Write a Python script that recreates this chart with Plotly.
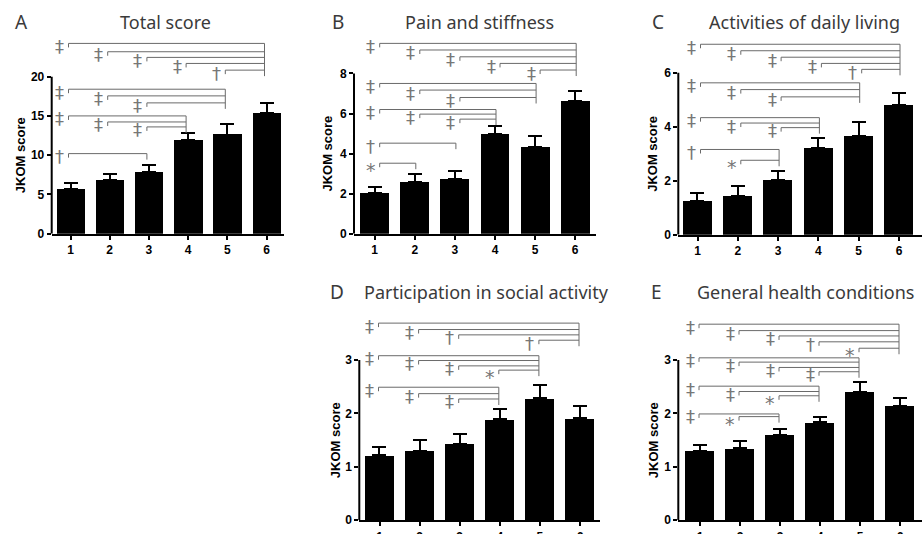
import plotly.graph_objects as go

# ---------------- data ----------------
groups = [1, 2, 3, 4, 5, 6]

total_mean = [5.72, 6.78, 7.80, 11.95, 12.63, 15.38]
total_se = [0.72, 0.85, 0.89, 0.85, 1.35, 1.22]

pain_mean = [2.03, 2.58, 2.75, 4.97, 4.33, 6.62]
pain_se = [0.30, 0.42, 0.38, 0.40, 0.57, 0.50]

adl_mean = [1.24, 1.44, 2.02, 3.23, 3.66, 4.80]
adl_se = [0.29, 0.38, 0.35, 0.37, 0.51, 0.47]

social_mean = [1.22, 1.30, 1.43, 1.89, 2.28, 1.91]
social_se = [0.16, 0.21, 0.18, 0.19, 0.26, 0.23]

health_mean = [1.30, 1.35, 1.60, 1.83, 2.41, 2.14]
health_se = [0.11, 0.13, 0.11, 0.10, 0.17, 0.15]

# significance comparisons: (group a, group b, mark)
total_sig = [(1, 6, "‡"), (2, 6, "‡"), (3, 6, "‡"), (4, 6, "‡"), (5, 6, "†"),
             (1, 5, "‡"), (2, 5, "‡"), (3, 5, "‡"),
             (1, 4, "‡"), (2, 4, "‡"), (3, 4, "‡"),
             (1, 3, "†")]
pain_sig = [(1, 6, "‡"), (2, 6, "‡"), (3, 6, "‡"), (4, 6, "‡"), (5, 6, "‡"),
            (1, 5, "‡"), (2, 5, "‡"), (3, 5, "‡"),
            (1, 4, "‡"), (2, 4, "‡"), (3, 4, "‡"),
            (1, 3, "†"), (1, 2, "*")]
adl_sig = [(1, 6, "‡"), (2, 6, "‡"), (3, 6, "‡"), (4, 6, "‡"), (5, 6, "†"),
           (1, 5, "‡"), (2, 5, "‡"), (3, 5, "‡"),
           (1, 4, "‡"), (2, 4, "‡"), (3, 4, "‡"),
           (1, 3, "†"), (2, 3, "*")]
social_sig = [(1, 6, "‡"), (2, 6, "‡"), (3, 6, "†"), (5, 6, "†"),
              (1, 5, "‡"), (2, 5, "‡"), (3, 5, "‡"), (4, 5, "*"),
              (1, 4, "‡"), (2, 4, "‡"), (3, 4, "‡")]
health_sig = [(1, 6, "‡"), (2, 6, "‡"), (3, 6, "‡"), (4, 6, "†"), (5, 6, "*"),
              (1, 5, "‡"), (2, 5, "‡"), (3, 5, "‡"), (4, 5, "‡"),
              (1, 4, "‡"), (2, 4, "‡"), (3, 4, "*"),
              (1, 3, "‡"), (2, 3, "*")]

# ---------------- layout (bracket heights, in axis units) ----------------
total_levels = [24.23, 23.17, 22.45, 21.68, 20.83, 18.4, 17.55, 16.66, 15.0, 14.23, 13.6, 10.2]
pain_levels = [9.5, 9.17, 8.83, 8.5, 8.17, 7.5, 7.17, 6.8, 6.2, 5.97, 5.72, 4.52, 3.52]
adl_levels = [7.06, 6.82, 6.58, 6.35, 6.13, 5.63, 5.38, 5.11, 4.34, 4.14, 3.97, 3.16, 2.76]
social_levels = [3.69, 3.57, 3.47, 3.37, 3.08, 2.99, 2.89, 2.81, 2.49, 2.37, 2.27]
health_levels = [3.67, 3.55, 3.45, 3.34, 3.22, 3.04, 2.96, 2.86, 2.78, 2.51, 2.41, 2.33, 1.99, 1.94]

W, H = 924, 544
VS = 534.0 / H  # the page height is fitted into the 534 px picture


def py(y):
    """target picture row -> page row"""
    return y / VS


panels = [
    dict(letter="A", title="Total score", mean=total_mean, se=total_se, sig=total_sig, lv=total_levels,
         axis_px=51.7, c1=70.5, sp=39.2, end_px=284, zero_px=233.3, ppu=7.84, top_px=30,
         ytop=20, ticks=[0, 5, 10, 15, 20], off0=-2, off1=-2,
         letter_xy=(13, 22), title_x=118, ylab_x=20),
    dict(letter="B", title="Pain and stiffness", mean=pain_mean, se=pain_se, sig=pain_sig, lv=pain_levels,
         axis_px=354, c1=374.7, sp=40.1, end_px=596, zero_px=233.3, ppu=20.0, top_px=30,
         ytop=8, ticks=[0, 2, 4, 6, 8], off0=5, off1=1,
         letter_xy=(330, 22), title_x=403, ylab_x=328),
    dict(letter="C", title="Activities of daily living", mean=adl_mean, se=adl_se, sig=adl_sig, lv=adl_levels,
         axis_px=678.3, c1=697.5, sp=40.3, end_px=922, zero_px=234.3, ppu=26.93, top_px=30,
         ytop=6, ticks=[0, 2, 4, 6], off0=3, off1=1,
         letter_xy=(650, 22), title_x=707, ylab_x=653),
    dict(letter="D", title="Participation in social activity", mean=social_mean, se=social_se, sig=social_sig,
         lv=social_levels,
         axis_px=359.3, c1=379.5, sp=40.1, end_px=600, zero_px=519.3, ppu=53.33, top_px=305,
         ytop=3, ticks=[0, 1, 2, 3], off0=-1, off1=-1,
         letter_xy=(328, 291), title_x=362, ylab_x=335),
    dict(letter="E", title="General health conditions", mean=health_mean, se=health_se, sig=health_sig,
         lv=health_levels,
         axis_px=678.3, c1=700, sp=40.0, end_px=922, zero_px=519.3, ppu=53.33, top_px=305,
         ytop=3, ticks=[0, 1, 2, 3], off0=-1, off1=-1,
         letter_xy=(649, 291), title_x=695, ylab_x=653),
]

fig = go.Figure()
shapes = []
annotations = []
GREY = "#6a6a6a"
SYM = "#777777"
TXT = "#3a3a3a"

for k, p in enumerate(panels):
    n = "" if k == 0 else str(k + 1)
    xa, ya = "x" + n, "y" + n
    zero_pg, top_pg, ppu_pg = py(p["zero_px"]), py(p["top_px"]), p["ppu"] / VS
    xr = [1 - (p["c1"] - p["axis_px"]) / p["sp"], 1 + (p["end_px"] - p["c1"]) / p["sp"]]
    yr = [0, (zero_pg - top_pg) / ppu_pg]
    fig.add_trace(go.Bar(
        x=groups, y=p["mean"], xaxis=xa, yaxis=ya, width=0.72,
        marker=dict(color="black", line=dict(width=0)),
        error_y=dict(type="data", array=p["se"], symmetric=False, arrayminus=[0] * 6,
                     color="black", thickness=2, width=7),
        showlegend=False, hoverinfo="skip"))
    axis_common = dict(showgrid=False, zeroline=False, ticks="outside", ticklen=4, tickwidth=2,
                       tickcolor="black",
                       tickfont=dict(family="Liberation Sans, Arial", size=12, color="black", weight="bold"))
    fig.update_layout(**{
        "xaxis" + n: dict(domain=[p["axis_px"] / W, p["end_px"] / W], range=xr, anchor=ya,
                          tickvals=groups, showline=True, linewidth=2, linecolor="black",
                          fixedrange=True, **axis_common),
        "yaxis" + n: dict(domain=[1 - zero_pg / H, 1 - top_pg / H], range=yr, anchor=xa,
                          tickvals=p["ticks"], showline=False, fixedrange=True, **axis_common),
    })
    # y axis line only up to the last tick
    shapes.append(dict(type="line", xref=xa + " domain", yref=ya, x0=0, x1=0, y0=0, y1=p["ytop"],
                       line=dict(color="black", width=2)))
    # significance brackets
    d0 = p["off0"] / p["sp"]
    d1 = p["off1"] / p["sp"]
    drop = 4 / p["ppu"]
    rdrop = 6 / p["ppu"]
    ends = {}
    for (a, b, mark), lev in zip(p["sig"], p["lv"]):
        xs, xe = a + d0, b + d1
        shapes.append(dict(type="line", xref=xa, yref=ya, x0=xs, x1=xe, y0=lev, y1=lev,
                           line=dict(color=GREY, width=1)))
        shapes.append(dict(type="line", xref=xa, yref=ya, x0=xs, x1=xs, y0=lev, y1=lev - drop,
                           line=dict(color=GREY, width=1)))
        ends.setdefault(b, []).append(lev)
        if mark == "*":
            fnt, ysh = 19, -7
        else:
            fnt, ysh = 18, -3
        annotations.append(dict(x=xs, y=lev, xref=xa, yref=ya, text=mark, showarrow=False,
                                xshift=-9, yshift=ysh,
                                font=dict(family="DejaVu Sans", size=fnt, color=SYM)))
    for b, levs in ends.items():
        xe = b + d1
        shapes.append(dict(type="line", xref=xa, yref=ya, x0=xe, x1=xe, y0=max(levs), y1=min(levs) - rdrop,
                           line=dict(color=GREY, width=1)))
    # panel letter + title
    lx, ly = p["letter_xy"]
    annotations.append(dict(x=lx / W, y=1 - py(ly) / H, xref="paper", yref="paper", text=p["letter"],
                            showarrow=False, xanchor="left", yanchor="middle",
                            font=dict(family="Noto Sans", size=19, color=TXT)))
    annotations.append(dict(x=p["title_x"] / W, y=1 - py(ly) / H, xref="paper", yref="paper", text=p["title"],
                            showarrow=False, xanchor="left", yanchor="middle",
                            font=dict(family="Noto Sans", size=18, color=TXT)))
    # y axis title
    ymid = p["zero_px"] - p["ytop"] * p["ppu"] / 2
    annotations.append(dict(x=p["ylab_x"] / W, y=1 - py(ymid) / H, xref="paper", yref="paper",
                            text="JKOM score", textangle=-90, showarrow=False,
                            xanchor="center", yanchor="middle",
                            font=dict(family="Liberation Sans, Arial", size=13, color="black", weight="bold")))

fig.update_layout(width=W, height=H, margin=dict(l=0, r=0, t=0, b=0),
                  paper_bgcolor="white", plot_bgcolor="white",
                  shapes=shapes, annotations=annotations, bargap=0)
fig.write_html("out.html", config={"displayModeBar": False},
               post_script="document.body.style.margin='0';document.body.style.overflow='hidden';")
